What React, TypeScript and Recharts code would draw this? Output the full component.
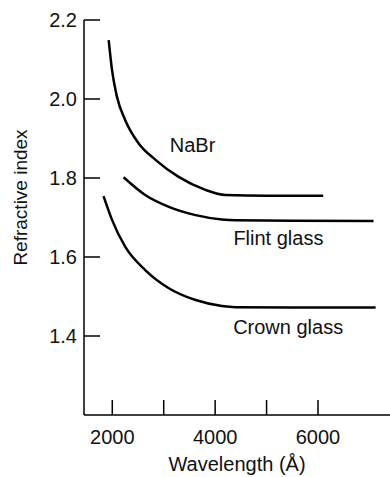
import { LineChart, Line, XAxis, YAxis, ReferenceDot } from "recharts";

// wavelength (Å) and refractive index
const nabrWavelength = [1930, 1995, 2090, 2250, 2510, 2840, 3290, 3810, 4200, 5000, 6100];
const nabrIndex = [2.149, 2.073, 2.006, 1.947, 1.888, 1.846, 1.803, 1.77, 1.757, 1.755, 1.755];

const flintWavelength = [2220, 2640, 3100, 3620, 4130, 4400, 5500, 7080];
const flintIndex = [1.802, 1.757, 1.727, 1.706, 1.695, 1.693, 1.692, 1.691];

const crownWavelength = [1830, 1995, 2250, 2640, 3100, 3620, 4130, 4400, 5500, 7120];
const crownIndex = [1.754, 1.694, 1.626, 1.567, 1.521, 1.491, 1.476, 1.473, 1.472, 1.472];

const xTicks = [2000, 3000, 4000, 5000, 6000];
const xTickLabels = ["2000", "", "4000", "", "6000"];
const yTicks = [1.4, 1.6, 1.8, 2.0, 2.2];
const yTickLabels = ["1.4", "1.6", "1.8", "2.0", "2.2"];

const curveNames = ["NaBr", "Flint glass", "Crown glass"];
const nameWavelength = [3560, 5230, 5420];
const nameIndex = [1.884, 1.648, 1.423];

const FONT = "'Liberation Sans', Arial, sans-serif";

const toPoints = (w: number[], n: number[]) => w.map((v, i) => ({ w: v, n: n[i] }));

const nabr = toPoints(nabrWavelength, nabrIndex);
const flint = toPoints(flintWavelength, flintIndex);
const crown = toPoints(crownWavelength, crownIndex);

// ticks point into the plot, so draw them ourselves
function XTick(props: any) {
  const { x, y, payload } = props;
  const i = xTicks.indexOf(payload.value);
  return (
    <g>
      <line x1={x} y1={y} x2={x} y2={y - 15} stroke="#000" strokeWidth={1.5} />
      <text x={x} y={y + 29} textAnchor="middle" fontSize={20} fontFamily={FONT} fill="#111">
        {xTickLabels[i]}
      </text>
    </g>
  );
}

function YTick(props: any) {
  const { x, y, payload } = props;
  const i = yTicks.findIndex((t) => Math.abs(t - payload.value) < 1e-6);
  return (
    <g>
      <line x1={x} y1={y} x2={x + 16} y2={y} stroke="#000" strokeWidth={1.5} />
      <text x={x - 7} y={y + 7} textAnchor="end" fontSize={20} fontFamily={FONT} fill="#111">
        {yTickLabels[i]}
      </text>
    </g>
  );
}

export default function App() {
  return (
    <div style={{ position: "absolute", left: 0, top: 0, background: "#fff" }}>
      <LineChart width={390} height={477} margin={{ top: 20, right: 0, left: 0, bottom: 0 }}>
        <XAxis
          dataKey="w"
          type="number"
          domain={[1450, 7400]}
          ticks={xTicks}
          allowDataOverflow
          height={62}
          tickSize={0}
          tickMargin={0}
          tickLine={false}
          tick={<XTick />}
          axisLine={{ stroke: "#000", strokeWidth: 1.5 }}
          label={{
            value: "Wavelength (Å)",
            position: "insideBottom",
            offset: 6,
            fontSize: 20,
            fontFamily: FONT,
            fill: "#111",
          }}
        />
        <YAxis
          dataKey="n"
          type="number"
          domain={[1.2, 2.2]}
          ticks={yTicks}
          allowDataOverflow
          width={84}
          tickSize={0}
          tickMargin={0}
          tickLine={false}
          tick={<YTick />}
          axisLine={{ stroke: "#000", strokeWidth: 1.5 }}
          label={{
            value: "Refractive index",
            angle: -90,
            position: "insideLeft",
            offset: 20,
            dy: -20,
            fontSize: 19,
            fontFamily: FONT,
            fill: "#111",
            style: { textAnchor: "middle" },
          }}
        />
        <Line data={nabr} dataKey="n" type="monotone" stroke="#000" strokeWidth={2.5} dot={false} isAnimationActive={false} />
        <Line data={flint} dataKey="n" type="monotone" stroke="#000" strokeWidth={2.5} dot={false} isAnimationActive={false} />
        <Line data={crown} dataKey="n" type="monotone" stroke="#000" strokeWidth={2.5} dot={false} isAnimationActive={false} />
        {curveNames.map((name, i) => (
          <ReferenceDot
            key={name}
            x={nameWavelength[i]}
            y={nameIndex[i]}
            r={0}
            fill="none"
            stroke="none"
            label={{ value: name, position: "center", fontSize: 20, fontFamily: FONT, fill: "#111" }}
          />
        ))}
      </LineChart>
    </div>
  );
}
